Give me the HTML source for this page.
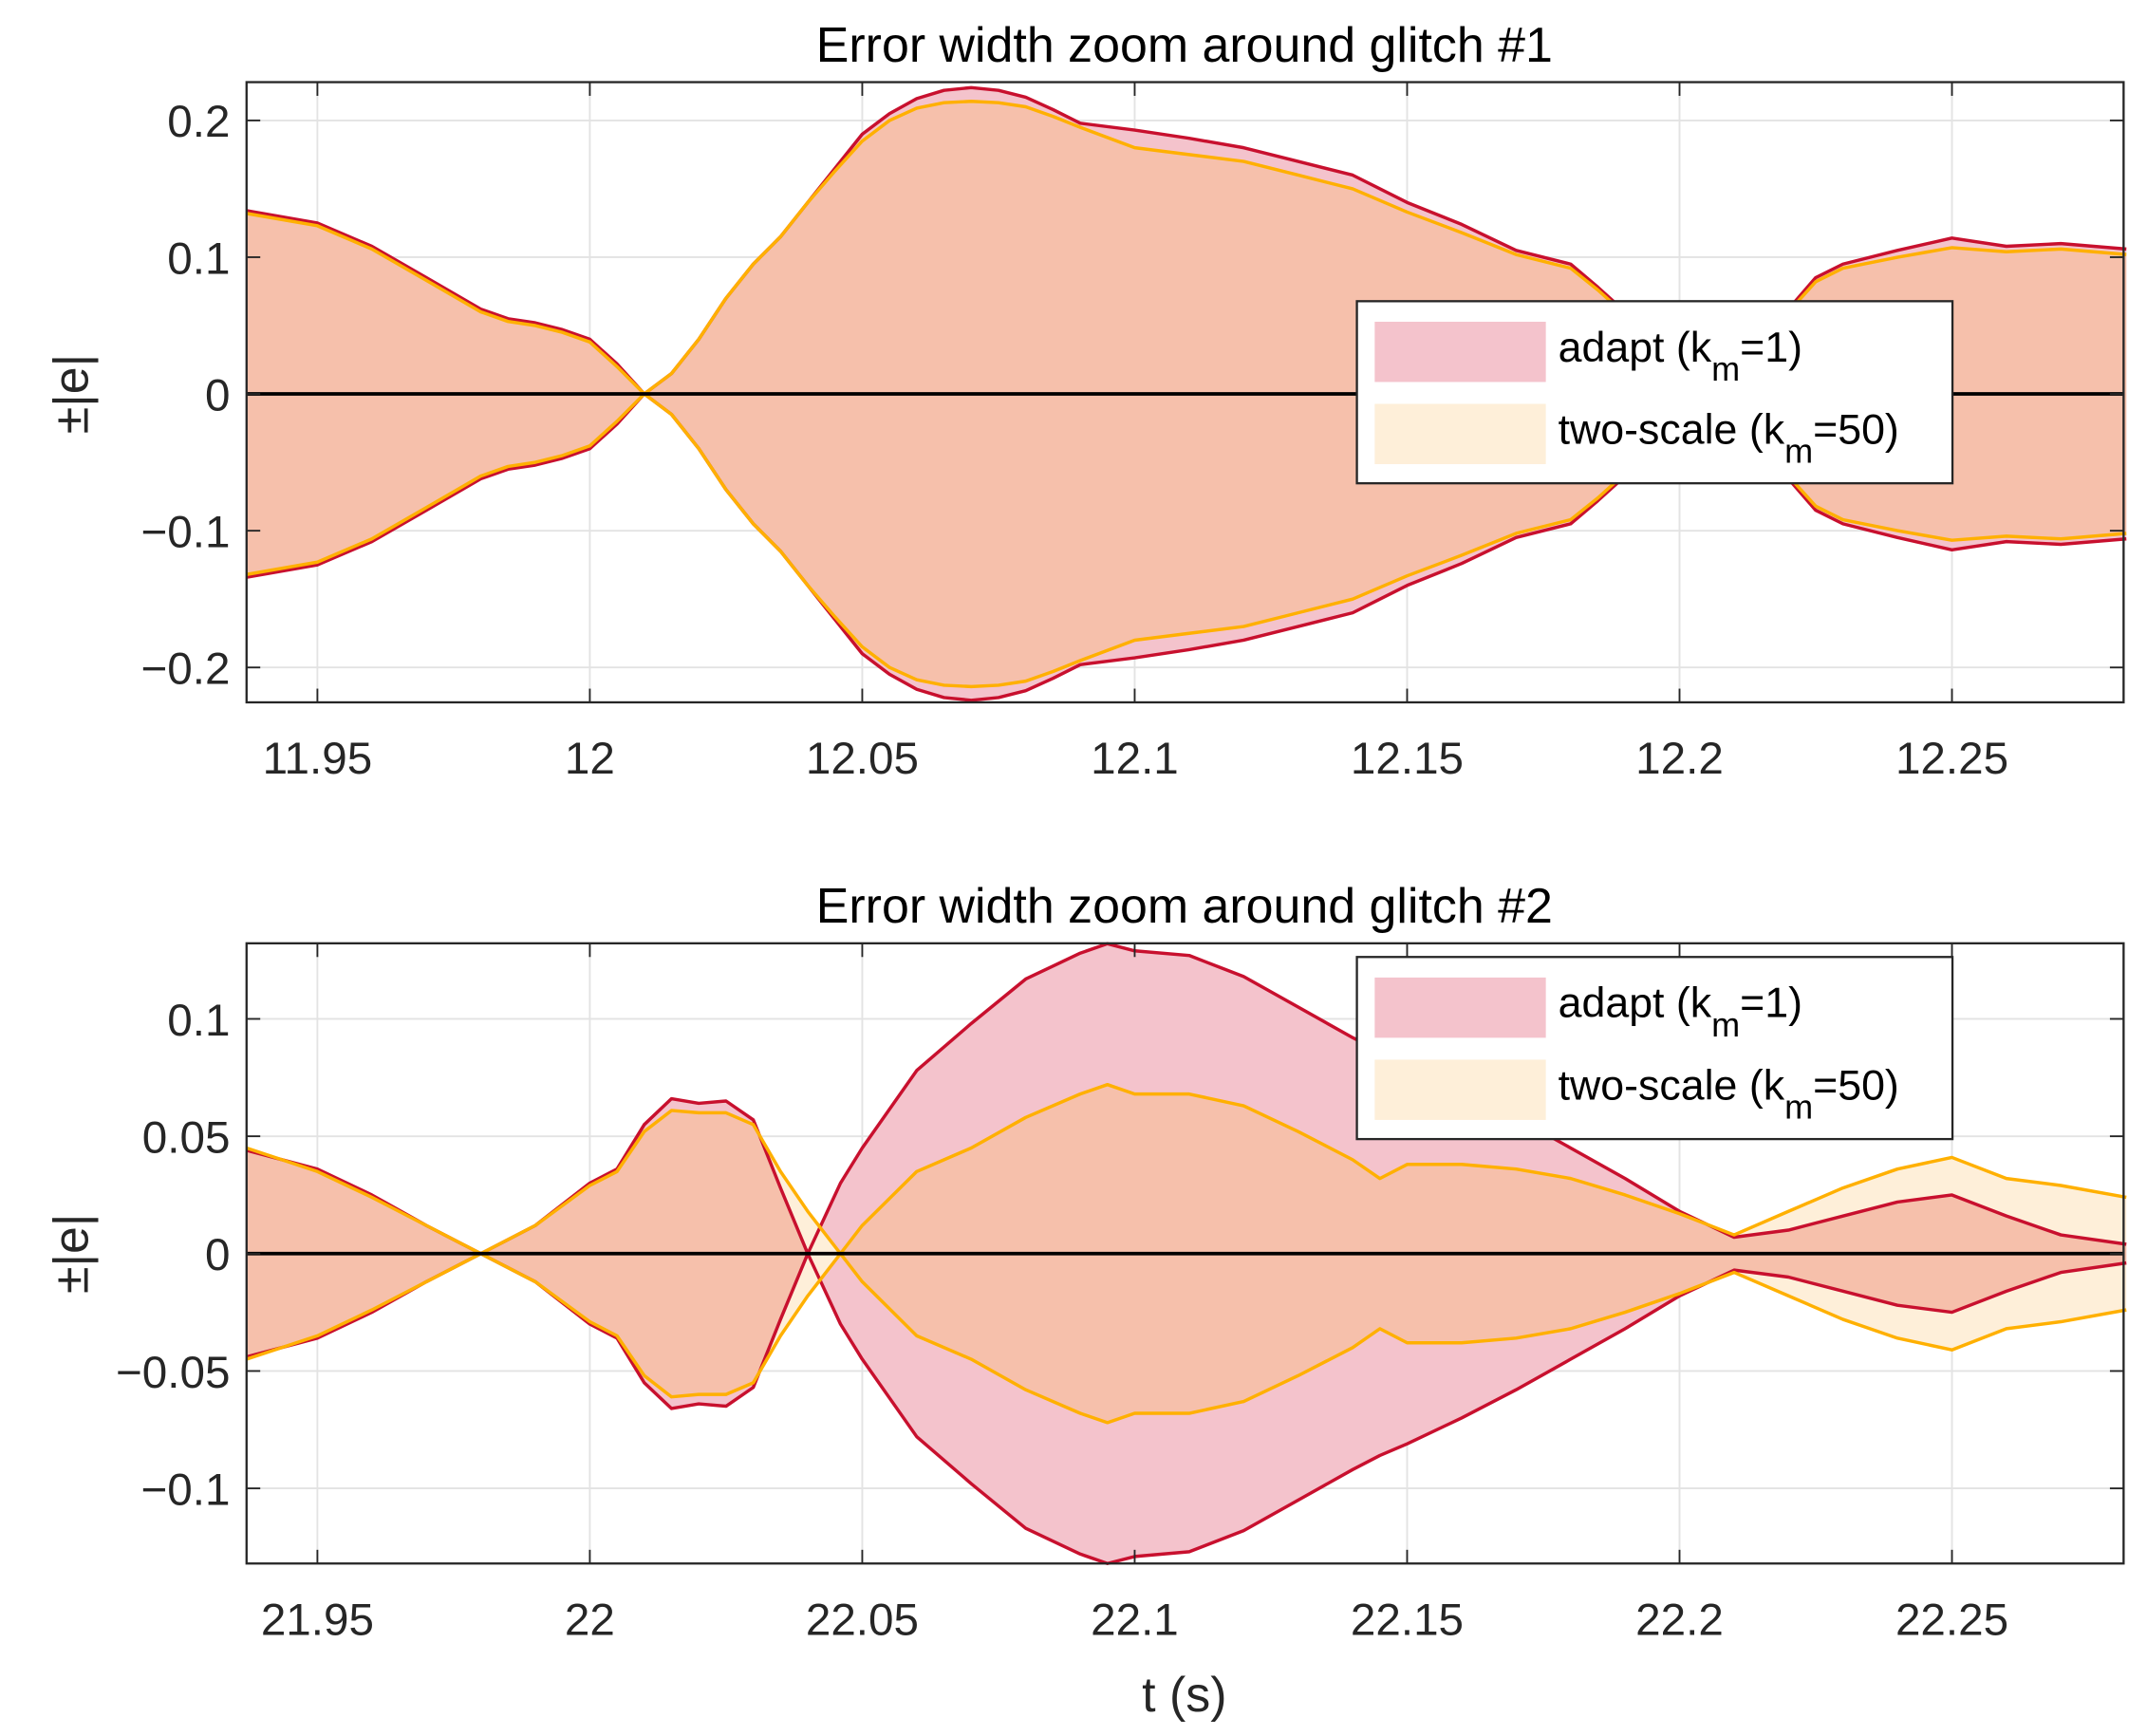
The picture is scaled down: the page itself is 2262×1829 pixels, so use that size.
<!DOCTYPE html>
<html><head><meta charset="utf-8"><style>
html,body{margin:0;padding:0;background:#fff}
svg{display:block;font-family:"Liberation Sans",Arial,sans-serif}
</style></head><body>
<svg id="fig" width="2262" height="1829" viewBox="0 0 1568 1268" xmlns="http://www.w3.org/2000/svg"></svg>
<script>
const xTicks = [0, 0.05, 0.1, 0.15, 0.2, 0.25, 0.3];
const t1 = [11.937,11.95,11.96,11.97,11.98,11.985,11.99,11.995,12.0,12.005,12.01,12.015,12.02,12.025,12.03,12.035,12.04,12.045,12.05,12.055,12.06,12.065,12.07,12.075,12.08,12.085,12.09,12.1,12.11,12.12,12.13,12.14,12.15,12.16,12.17,12.18,12.185,12.19,12.2,12.21,12.215,12.22,12.225,12.23,12.24,12.25,12.26,12.27,12.282];
const adapt1 = [0.134,0.125,0.108,0.085,0.062,0.055,0.052,0.047,0.040,0.022,0.0,0.015,0.040,0.070,0.095,0.115,0.140,0.165,0.190,0.205,0.216,0.222,0.224,0.222,0.217,0.208,0.198,0.193,0.187,0.180,0.170,0.160,0.140,0.124,0.105,0.095,0.078,0.060,0.035,0.035,0.045,0.062,0.085,0.095,0.105,0.114,0.108,0.110,0.106];
const two1 = [0.132,0.123,0.106,0.083,0.060,0.053,0.050,0.045,0.038,0.020,0.0,0.015,0.040,0.070,0.095,0.115,0.140,0.163,0.185,0.200,0.209,0.213,0.214,0.213,0.210,0.203,0.195,0.180,0.175,0.170,0.160,0.150,0.133,0.118,0.102,0.092,0.076,0.058,0.034,0.034,0.043,0.060,0.082,0.092,0.100,0.107,0.104,0.106,0.102];
const yTicks1 = [-0.2,-0.1,0,0.1,0.2];
const t2 = [21.937,21.95,21.96,21.97,21.98,21.99,22.0,22.005,22.01,22.015,22.02,22.025,22.03,22.035,22.04,22.046,22.05,22.06,22.07,22.08,22.09,22.095,22.1,22.11,22.12,22.13,22.14,22.145,22.15,22.16,22.17,22.18,22.19,22.2,22.21,22.22,22.23,22.24,22.25,22.26,22.27,22.282];
const adapt2 = [0.044,0.036,0.025,0.012,0.0,0.012,0.030,0.036,0.055,0.066,0.064,0.065,0.057,0.028,0.0,0.030,0.045,0.078,0.098,0.117,0.128,0.132,0.129,0.127,0.118,0.105,0.092,0.086,0.081,0.070,0.058,0.045,0.032,0.018,0.007,0.010,0.016,0.022,0.025,0.016,0.008,0.004];
const two2 = [0.045,0.035,0.024,0.012,0.0,0.012,0.029,0.035,0.052,0.061,0.060,0.060,0.055,0.035,0.018,0.0,0.012,0.035,0.045,0.058,0.068,0.072,0.068,0.068,0.063,0.052,0.040,0.032,0.038,0.038,0.036,0.032,0.025,0.017,0.008,0.018,0.028,0.036,0.041,0.032,0.029,0.024];
const yTicks2 = [-0.1,-0.05,0,0.05,0.1];

const NS="http://www.w3.org/2000/svg";
const svg=document.getElementById('fig');
function mk(tag,attrs,parent){const e=document.createElementNS(NS,tag);for(const k in attrs)e.setAttribute(k,attrs[k]);(parent||svg).appendChild(e);return e;}

function panel(P){
  const g=mk('g',{});
  
  
  const L=180,R=1551,T=P.top,B=P.top+453;
  const x=v=>L+(v-P.x0)*(R-L)/(P.x1-P.x0);
  const y=v=>T+(P.y1-v)*(B-T)/(P.y1-P.y0);
  P.xt.forEach(v=>{const gl=mk('line',{x1:x(v),x2:x(v),y1:T,y2:B,stroke:'#e3e3e3','stroke-width':1.3},g);
    });
  P.yt.forEach(v=>{const gl=mk('line',{x1:L,x2:R,y1:y(v),y2:y(v),stroke:'#e3e3e3','stroke-width':1.3},g);
    });
  const band=(arr)=>{let d='';P.t.forEach((tv,i)=>{d+=(i?'L':'M')+x(tv).toFixed(1)+','+y(arr[i]).toFixed(1);});
    for(let i=P.t.length-1;i>=0;i--)d+='L'+x(P.t[i]).toFixed(1)+','+y(-arr[i]).toFixed(1);return d+'Z';};
  const line=(arr,s)=>{let d='';P.t.forEach((tv,i)=>{d+=(i?'L':'M')+x(tv).toFixed(1)+','+y(s*arr[i]).toFixed(1);});return d;};
  const fa=mk('path',{d:band(P.a),fill:'#f4c3cc'},g);
  
  const fb=mk('path',{d:band(P.b),fill:'#feefd9'},g);
  
  const mn=P.a.map((v,i)=>Math.min(v,P.b[i]));
  const fo=mk('path',{d:band(mn),fill:'#f6c0ab'},g);
  
  [1,-1].forEach(s=>{const l=mk('path',{d:line(P.a,s),fill:'none',stroke:'#c8102e','stroke-width':2.4,'stroke-linejoin':'round'},g);
    });
  [1,-1].forEach(s=>{const l=mk('path',{d:line(P.b,s),fill:'none',stroke:'#ffb000','stroke-width':2.4,'stroke-linejoin':'round'},g);
    });
  const z=mk('line',{x1:L,x2:R,y1:y(0),y2:y(0),stroke:'#000','stroke-width':2.6},g);
  
  const bx=mk('rect',{x:L,y:T,width:R-L,height:B-T,fill:'none',stroke:'#262626','stroke-width':1.6},g);
  
  P.xt.forEach(v=>{mk('line',{x1:x(v),x2:x(v),y1:B,y2:B-10,stroke:'#262626','stroke-width':1.3},g);mk('line',{x1:x(v),x2:x(v),y1:T,y2:T+10,stroke:'#262626','stroke-width':1.3},g);
    const tx=mk('text',{x:x(v),y:B+52,'font-size':33,'text-anchor':'middle',fill:'#262626'},g);
    
    tx.textContent=String(+v.toFixed(2));});
  P.yt.forEach(v=>{mk('line',{x1:L,x2:L+10,y1:y(v),y2:y(v),stroke:'#262626','stroke-width':1.3},g);mk('line',{x1:R,x2:R-10,y1:y(v),y2:y(v),stroke:'#262626','stroke-width':1.3},g);
    const tx=mk('text',{x:L-12,y:y(v)+12,'font-size':33,'text-anchor':'end',fill:'#262626'},g);
    
    tx.textContent=(v<0?'\u2212':'')+String(+Math.abs(v).toFixed(2));});
  const tt=mk('text',{x:865,y:T-15,'font-size':36,'text-anchor':'middle',fill:'#000'},g);
  
  tt.textContent=P.title;
  const yl=mk('text',{x:0,y:0,'font-size':36,'text-anchor':'middle',fill:'#262626',transform:`translate(64,${y(0)}) rotate(-90)`},g);
  
  yl.textContent='\u00b1|e|';
  const lg=mk('g',{},g);
  
  const LT=P.leg;
  mk('rect',{x:991,y:LT,width:435,height:133,fill:'#fff',stroke:'#262626','stroke-width':1.6},lg);
  const ents=[['adapt (k','=1)','#f4c3cc',LT+15],['two-scale (k','=50)','#feefd9',LT+75]];
  ents.forEach(e=>{const eg=mk('g',{},lg);
    
    mk('rect',{x:1004,y:e[3],width:125,height:44,fill:e[2]},eg);
    const tx=mk('text',{x:1138,y:e[3]+29,'font-size':31,fill:'#000'},eg);
    const a=mk('tspan',{},tx);a.textContent=e[0];
    const m=mk('tspan',{dy:14,'font-size':25},tx);m.textContent='m';
    const b=mk('tspan',{dy:-14},tx);b.textContent=e[1];});
}
panel({name:'top-panel',title:'Error width zoom around glitch #1',top:60,x0:11.937,x1:12.2815,y0:-0.2255,y1:0.228,
  t:t1,a:adapt1,b:two1,xt:xTicks.map(v=>11.95+v).filter(v=>v<12.28),yt:yTicks1,leg:220});
panel({name:'bottom-panel',title:'Error width zoom around glitch #2',top:689,x0:21.937,x1:22.2815,y0:-0.132,y1:0.1322,
  t:t2,a:adapt2,b:two2,xt:xTicks.map(v=>21.95+v).filter(v=>v<22.28),yt:yTicks2,leg:699});
const xl=mk('text',{x:865,y:1250,'font-size':36,'text-anchor':'middle',fill:'#262626'});


xl.textContent='t (s)';
</script>
</body></html>
